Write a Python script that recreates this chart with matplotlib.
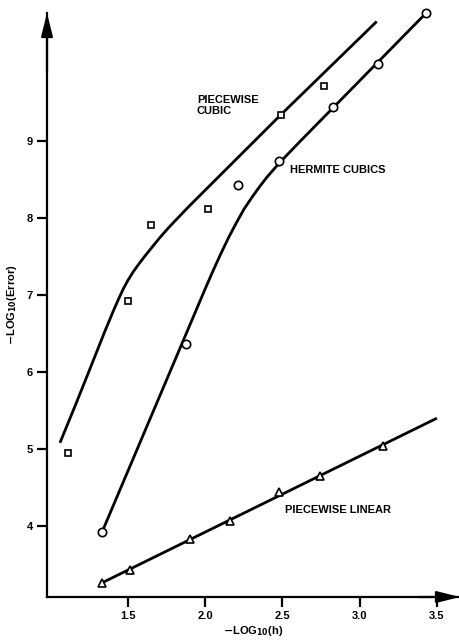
import matplotlib
matplotlib.use("Agg")
import matplotlib.pyplot as plt

plt.rcParams['font.family'] = ['Liberation Sans', 'DejaVu Sans']
plt.rcParams['font.weight'] = 'bold'

# Data points
cubic_x = [1.11, 1.50, 1.65, 2.02, 2.49, 2.77]
cubic_y = [4.95, 6.92, 7.91, 8.12, 9.34, 9.71]

hermite_x = [1.33, 1.875, 2.21, 2.48, 2.83, 3.12, 3.43]
hermite_y = [3.92, 6.36, 8.43, 8.74, 9.44, 10.00, 10.66]

linear_x = [1.33, 1.51, 1.90, 2.16, 2.48, 2.74, 3.15]
linear_y = [3.26, 3.43, 3.83, 4.07, 4.44, 4.65, 5.04]

# Fitted curves
cubic_curve_x = [1.06, 1.16, 1.254, 1.351, 1.405, 1.44, 1.47, 1.50, 1.534, 1.57, 1.61,
                 1.66, 1.707, 1.755, 1.804, 1.90, 2.00, 2.10, 2.49, 3.11]
cubic_curve_y = [5.08, 5.57, 6.04, 6.53, 6.79, 6.95, 7.08, 7.19, 7.30, 7.40, 7.505,
                 7.63, 7.745, 7.855, 7.96, 8.16, 8.36, 8.56, 9.34, 10.55]

hermite_curve_x = [1.332, 1.85, 2.00, 2.05, 2.10, 2.15, 2.20, 2.25, 2.30, 2.35, 2.40,
                   2.45, 2.50, 2.55, 2.61, 3.43]
hermite_curve_y = [3.92, 6.37, 7.08, 7.31, 7.53, 7.74, 7.93, 8.11, 8.26, 8.40, 8.53,
                   8.645, 8.755, 8.86, 8.985, 10.66]

linear_line_x = [1.33, 3.50]
linear_line_y = [3.26, 5.40]

x_ticks = [1.5, 2.0, 2.5, 3.0, 3.5]
x_ticklabels = ['1.5', '2.0', '2.5', '3.0', '3.5']
y_ticks = [4, 5, 6, 7, 8, 9]
y_ticklabels = ['4', '5', '6', '7', '8', '9']

fig = plt.figure(figsize=(4.6, 6.4), dpi=100)
ax = fig.add_axes([47/460, 43/640, 1 - 47/460, 1 - 43/640 - 13/640])
ax.set_xlim(0.976, 3.649)
ax.set_ylim(3.078, 10.66)

lw = 2.0
ax.plot(cubic_curve_x, cubic_curve_y, color='black', lw=lw, solid_capstyle='butt', solid_joinstyle='round')
ax.plot(hermite_curve_x, hermite_curve_y, color='black', lw=lw, solid_capstyle='butt', solid_joinstyle='round')
ax.plot(linear_line_x, linear_line_y, color='black', lw=lw, solid_capstyle='butt')

ax.plot(cubic_x, cubic_y, ls='none', marker='s', ms=5, mfc='white', mec='black', mew=1.2, clip_on=False, zorder=5)
ax.plot(hermite_x, hermite_y, ls='none', marker='o', ms=6, mfc='white', mec='black', mew=1.2, clip_on=False, zorder=5)
ax.plot(linear_x, linear_y, ls='none', marker='^', ms=5.5, mfc='white', mec='black', mew=1.2, clip_on=False, zorder=5)

for s in ['top', 'right']:
    ax.spines[s].set_visible(False)
for s in ['left', 'bottom']:
    ax.spines[s].set_linewidth(1.6)

# Axis arrows
ax.annotate('', xy=(0, 1.0), xytext=(0, 0.9), xycoords='axes fraction',
            arrowprops=dict(arrowstyle='-|>,head_length=1.4,head_width=0.35', lw=1.6, color='black',
                            shrinkA=0, shrinkB=0), annotation_clip=False)
ax.annotate('', xy=(1.0, 0), xytext=(0.9, 0), xycoords='axes fraction',
            arrowprops=dict(arrowstyle='-|>,head_length=1.4,head_width=0.35', lw=1.6, color='black',
                            shrinkA=0, shrinkB=0), annotation_clip=False)

ax.set_xticks(x_ticks)
ax.set_xticklabels(x_ticklabels)
ax.set_yticks(y_ticks)
ax.set_yticklabels(y_ticklabels)
ax.tick_params(direction='out', length=7, width=1.6, labelsize=8, pad=3)
for lab in ax.get_xticklabels() + ax.get_yticklabels():
    lab.set_fontweight('bold')

ax.set_xlabel(r'$\mathbf{-}$LOG$_{\mathbf{10}}$(h)', fontsize=8, fontweight='bold', labelpad=2)
ax.set_ylabel(r'$\mathbf{-}$LOG$_{\mathbf{10}}$(Error)', fontsize=8, fontweight='bold', labelpad=6)

ax.text(1.946, 9.46, 'PIECEWISE\nCUBIC', fontsize=8, fontweight='bold', ha='left', va='center', linespacing=1.15)
ax.text(2.548, 8.62, 'HERMITE CUBICS', fontsize=8, fontweight='bold', ha='left', va='center')
ax.text(2.516, 4.21, 'PIECEWISE LINEAR', fontsize=8, fontweight='bold', ha='left', va='center')

fig.savefig('out.png', dpi=100)
